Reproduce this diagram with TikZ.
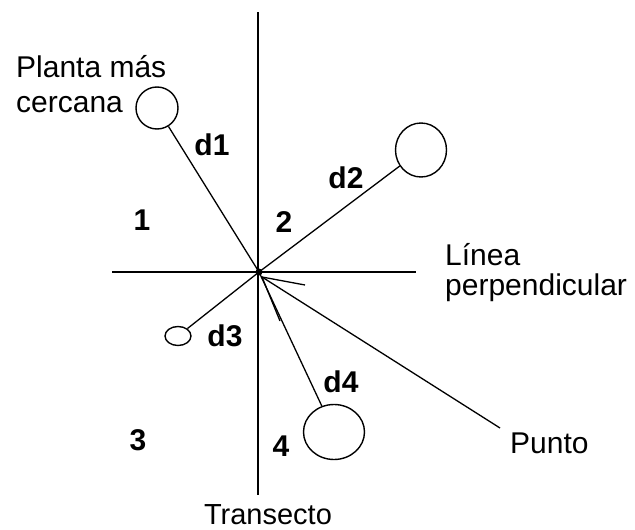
\documentclass[tikz,border=0pt]{standalone}
\usepackage{fontspec}
\setmainfont{Liberation Sans}
\usetikzlibrary{shapes.geometric}
\begin{document}
\begin{tikzpicture}[x=1pt,y=-1pt,
  axis/.style={line width=1.8pt,black},
  conn/.style={line width=1.3pt,black},
  plant/.style={draw,line width=1.4pt,ellipse,inner sep=0pt},
  lab/.style={font=\fontsize{29}{33}\selectfont,inner sep=0pt,anchor=base west},
  labL/.style={lab,font=\fontsize{30}{34}\selectfont},
  labM/.style={lab,font=\fontsize{30}{34}\selectfont},
  num/.style={font=\fontsize{30}{34}\selectfont\bfseries,inner sep=0pt}]
\useasboundingbox (0,0) rectangle (635,530);
% axes
\coordinate (ttop) at (258,12);
\coordinate (tbot) at (258,495);
\coordinate (hl) at (112,272);
\coordinate (hr) at (416,272);
\draw[axis] (ttop) -- (tbot);
\draw[axis] (hl) -- (hr);
\coordinate (c) at (259,272);
\fill (c) circle (3.5);
% plants
\node[plant,minimum width=42,minimum height=42] (p1) at (157,108) {};
\node[plant,minimum width=51,minimum height=54] (p2) at (421,150) {};
\node[plant,minimum width=26,minimum height=19] (p3) at (178,336) {};
\node[plant,minimum width=61,minimum height=55] (p4) at (334,432) {};
% connectors
\draw[conn] (p1) -- (c);
\draw[conn] (p2) -- (c);
\draw[conn] (p3) -- (c);
\draw[conn] (p4) -- (c);
\coordinate (pt) at (500,428);
\coordinate (tip) at (262,277);
\coordinate (b1) at (305,285);
\coordinate (b2) at (280,321);
\draw[conn] (pt) -- (tip);
\draw[conn] (b1) -- (tip) -- (b2);
% labels
\node[num] (d1) at (212,145) {d1};
\node[num] (d2) at (346,178) {d2};
\node[num] (d3) at (225,336) {d3};
\node[num] (d4) at (341,382) {d4};
\node[num] (q1) at (142,220) {1};
\node[num] (q2) at (284,222) {2};
\node[num] (q3) at (138,440) {3};
\node[num] (q4) at (281,446) {4};
\node[labM] (pl1) at (16,77) {Planta más};
\node[labM] (pl2) at (16,112) {cercana};
\node[labL] (li1) at (445,265) {Línea};
\node[labL] (li2) at (445,295) {perpendicular};
\node[labM] (pu) at (510,453) {Punto};
\node[lab,anchor=base] (tr) at (268,524) {Transecto};
\end{tikzpicture}
\end{document}
